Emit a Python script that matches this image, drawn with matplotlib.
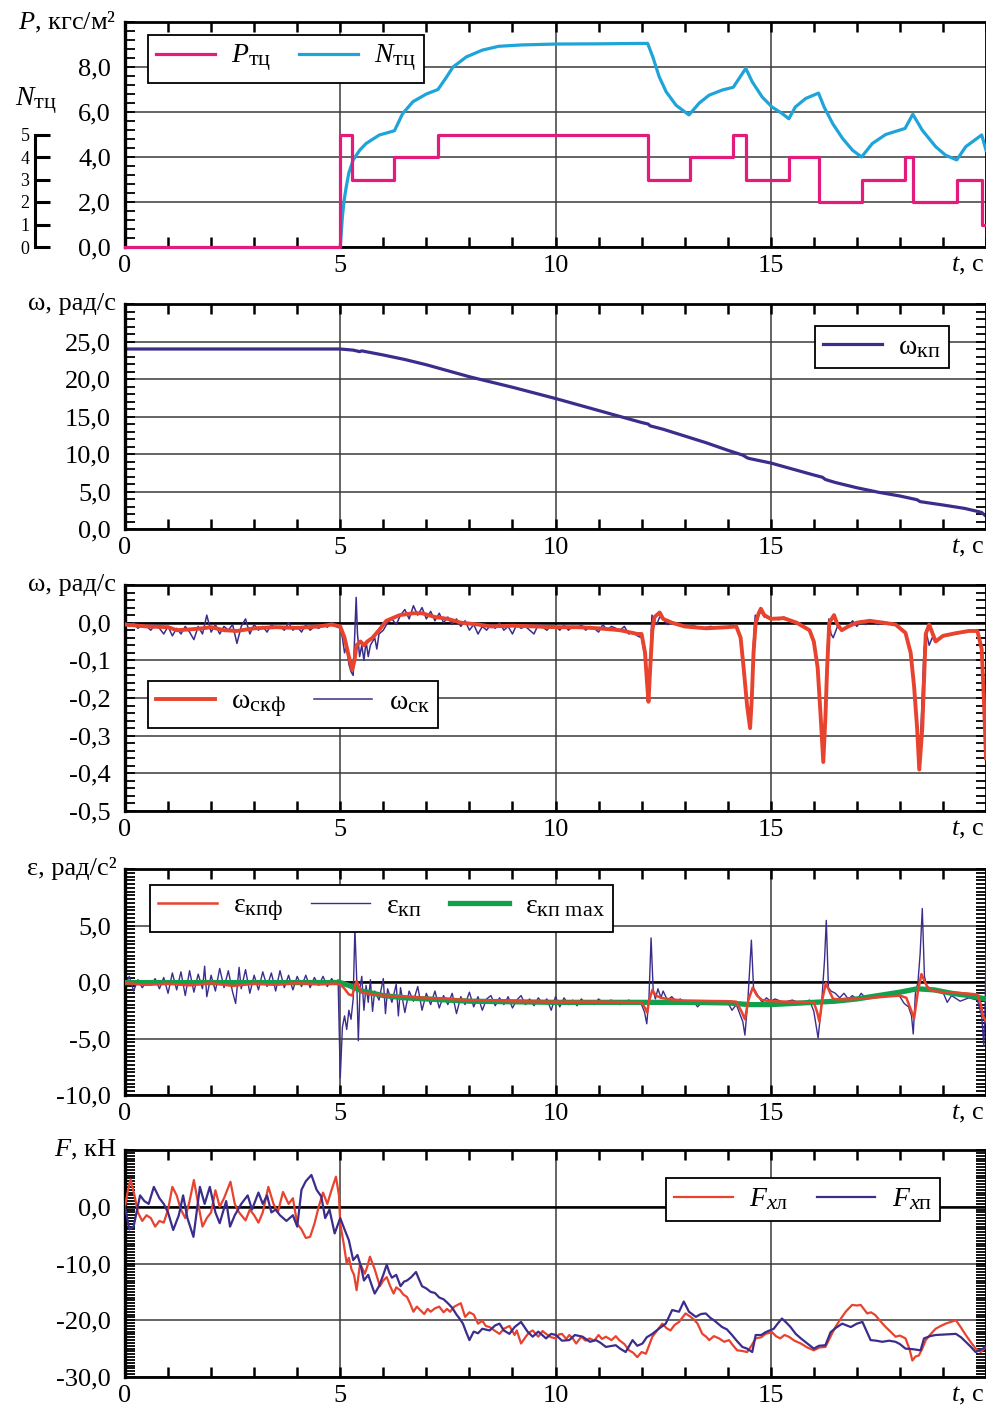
import matplotlib.pyplot as plt
import matplotlib._mathtext as mathtext_mod
from matplotlib.ticker import MultipleLocator, FixedLocator, FuncFormatter

plt.rcParams['font.family'] = ['Liberation Serif', 'DejaVu Serif']
plt.rcParams['mathtext.fontset'] = 'custom'
plt.rcParams['mathtext.rm'] = 'Liberation Serif'
plt.rcParams['mathtext.it'] = 'Liberation Serif:italic'
plt.rcParams['mathtext.bf'] = 'Liberation Serif:bold'
# индексы в оригинале крупнее, чем по умолчанию в mathtext
if hasattr(mathtext_mod, 'SHRINK_FACTOR'):
    mathtext_mod.SHRINK_FACTOR = 0.8

# ---- панель 1: давление в тормозном цилиндре и число ступеней ----
p_t = [0, 5.0, 5.27, 6.26, 7.27, 12.14, 13.13, 14.13, 14.42, 15.43, 16.13, 17.11, 18.12, 18.3, 19.32, 19.9, 20.0]
p_v = [0, 5, 3, 4, 5, 3, 4, 5, 3, 4, 2, 3, 4, 2, 3, 1, 1]

n_pts = [(5.0, 0.0), (5.03, 0.8), (5.05, 1.35), (5.09, 2.08), (5.14, 2.68), (5.2, 3.3), (5.3, 3.87),
         (5.45, 4.3), (5.6, 4.6), (5.91, 4.98), (6.1, 5.08), (6.26, 5.17), (6.45, 5.93), (6.69, 6.46),
         (7.0, 6.8), (7.27, 7.0), (7.45, 7.5), (7.62, 8.0), (7.93, 8.45), (8.3, 8.75), (8.68, 8.92),
         (9.2, 8.98), (10.0, 9.02), (11.0, 9.03), (12.14, 9.05), (12.26, 8.45), (12.41, 7.56),
         (12.57, 6.9), (12.8, 6.3), (13.1, 5.87), (13.34, 6.4), (13.57, 6.75), (13.88, 6.98),
         (14.13, 7.1), (14.42, 7.94), (14.57, 7.34), (14.8, 6.67), (15.03, 6.22), (15.26, 5.94),
         (15.42, 5.7), (15.57, 6.22), (15.81, 6.6), (16.11, 6.84), (16.24, 6.22), (16.44, 5.48),
         (16.67, 4.82), (16.9, 4.3), (17.11, 4.0), (17.36, 4.6), (17.67, 5.0), (18.12, 5.27),
         (18.3, 5.9), (18.52, 5.19), (18.83, 4.46), (19.06, 4.08), (19.32, 3.87), (19.53, 4.46),
         (19.9, 4.98), (20.0, 4.3)]

# ---- панель 2: угловая скорость колёсной пары ----
w_kp = [(0, 24.0), (1, 24.0), (2, 24.0), (3, 24.0), (4, 24.0), (5.0, 24.0), (5.3, 23.85), (5.45, 23.65),
        (5.5, 23.75), (6.0, 23.2), (6.5, 22.6), (7.0, 21.9), (7.5, 21.1), (8.0, 20.3), (8.5, 19.6),
        (9.0, 18.9), (9.5, 18.15), (10.0, 17.4), (10.5, 16.6), (11.0, 15.8), (11.5, 15.0), (12.0, 14.2),
        (12.15, 14.0), (12.2, 13.75), (12.5, 13.3), (13.0, 12.4), (13.5, 11.5), (14.0, 10.5),
        (14.35, 9.85), (14.45, 9.5), (14.5, 9.4), (15.0, 8.8), (15.5, 8.0), (16.0, 7.2), (16.2, 6.9),
        (16.27, 6.6), (16.5, 6.2), (17.0, 5.5), (17.5, 4.9), (18.0, 4.4), (18.4, 3.9), (18.47, 3.65),
        (19.0, 3.2), (19.5, 2.75), (19.8, 2.35), (19.9, 2.2), (20.0, 1.7)]

# ---- панель 3: угловая скорость скольжения ----
w_skf = [(0.0, -0.005), (0.5, -0.01), (1.0, -0.012), (1.2, -0.02), (1.5, -0.018), (1.8, -0.015),
         (2.0, -0.012), (2.3, -0.02), (2.6, -0.022), (3.0, -0.015), (3.5, -0.012), (4.0, -0.014),
         (4.5, -0.01), (4.8, -0.005), (5.0, -0.01), (5.1, -0.04), (5.2, -0.09), (5.28, -0.125),
         (5.33, -0.1), (5.38, -0.06), (5.47, -0.05), (5.55, -0.06), (5.63, -0.05), (5.75, -0.04),
         (5.9, -0.02), (6.07, 0.005), (6.38, 0.02), (6.7, 0.025), (6.9, 0.025), (7.2, 0.015),
         (7.5, 0.01), (7.8, 0.0), (8.2, -0.005), (8.5, -0.01), (9.0, -0.008), (9.5, -0.01),
         (10.0, -0.012), (10.5, -0.012), (11.0, -0.015), (11.5, -0.02), (11.9, -0.03), (12.0, -0.03),
         (12.08, -0.08), (12.12, -0.15), (12.16, -0.21), (12.2, -0.12), (12.25, -0.02), (12.3, 0.015),
         (12.42, 0.027), (12.5, 0.01), (12.7, 0.0), (13.0, -0.01), (13.5, -0.015), (14.0, -0.012),
         (14.2, -0.01), (14.3, -0.04), (14.37, -0.12), (14.45, -0.22), (14.52, -0.28), (14.56, -0.2),
         (14.6, -0.08), (14.65, 0.0), (14.72, 0.025), (14.77, 0.037), (14.85, 0.02), (15.0, 0.01),
         (15.3, 0.012), (15.6, 0.0), (15.9, -0.02), (16.0, -0.05), (16.09, -0.12), (16.16, -0.25),
         (16.22, -0.37), (16.27, -0.25), (16.31, -0.12), (16.36, 0.0), (16.47, 0.02), (16.55, -0.005),
         (16.65, -0.02), (16.8, -0.01), (17.0, 0.0), (17.3, 0.005), (17.6, 0.0), (17.9, -0.005),
         (18.13, -0.027), (18.25, -0.08), (18.33, -0.17), (18.4, -0.28), (18.45, -0.39), (18.52, -0.28),
         (18.6, -0.03), (18.68, -0.005), (18.83, -0.05), (19.0, -0.035), (19.3, -0.028), (19.6, -0.022),
         (19.8, -0.022), (19.9, -0.07), (19.95, -0.2), (20.0, -0.36)]

w_sk = [(0.0, 0.0), (0.1, -0.01), (0.2, 0.0), (0.3, -0.015), (0.4, -0.005), (0.5, -0.01), (0.6, -0.02),
        (0.7, -0.005), (0.8, -0.015), (0.9, -0.03), (1.0, -0.01), (1.1, -0.035), (1.2, -0.015),
        (1.3, -0.03), (1.4, -0.01), (1.5, -0.025), (1.6, -0.045), (1.7, -0.01), (1.8, -0.03),
        (1.9, 0.02), (2.0, -0.025), (2.1, -0.005), (2.2, -0.03), (2.3, -0.01), (2.4, -0.02),
        (2.5, -0.005), (2.6, -0.055), (2.7, -0.01), (2.8, 0.01), (2.9, -0.03), (3.0, -0.005),
        (3.1, -0.02), (3.2, -0.01), (3.3, -0.025), (3.4, -0.005), (3.5, -0.015), (3.6, -0.01),
        (3.7, -0.02), (3.8, 0.0), (3.9, -0.02), (4.0, -0.01), (4.1, -0.025), (4.2, -0.005),
        (4.3, -0.02), (4.4, -0.01), (4.5, -0.015), (4.6, -0.005), (4.7, -0.012), (4.8, 0.0),
        (4.9, -0.01), (5.0, -0.015), (5.05, -0.04), (5.1, -0.08), (5.15, -0.06), (5.2, -0.11),
        (5.25, -0.13), (5.3, -0.14), (5.33, -0.05), (5.37, 0.067), (5.4, -0.03), (5.45, -0.09),
        (5.5, -0.06), (5.55, -0.1), (5.6, -0.05), (5.65, -0.09), (5.7, -0.06), (5.8, -0.04),
        (5.85, -0.07), (5.9, -0.03), (6.0, -0.02), (6.1, 0.0), (6.2, 0.01), (6.3, -0.005), (6.4, 0.02),
        (6.5, 0.035), (6.6, 0.01), (6.7, 0.045), (6.8, 0.02), (6.9, 0.04), (7.0, 0.01), (7.1, 0.03),
        (7.2, 0.005), (7.3, 0.025), (7.4, 0.0), (7.5, 0.015), (7.6, -0.005), (7.7, 0.01), (7.8, -0.01),
        (7.9, 0.005), (8.0, -0.02), (8.1, -0.005), (8.2, -0.03), (8.3, -0.01), (8.4, -0.02),
        (8.5, -0.005), (8.6, -0.015), (8.7, 0.0), (8.8, -0.02), (8.9, -0.01), (9.0, -0.03),
        (9.1, -0.005), (9.2, -0.015), (9.3, -0.01), (9.5, -0.03), (9.6, -0.005), (9.7, -0.012),
        (9.8, -0.02), (9.9, -0.008), (10.0, -0.01), (10.1, -0.02), (10.2, -0.005), (10.3, -0.02),
        (10.4, -0.01), (10.5, -0.015), (10.6, -0.005), (10.7, -0.02), (10.8, -0.01), (10.9, -0.015),
        (11.0, -0.025), (11.1, -0.005), (11.2, -0.02), (11.3, -0.01), (11.4, -0.015), (11.5, -0.02),
        (11.6, -0.01), (11.7, -0.03), (11.8, -0.025), (11.9, -0.035), (12.0, -0.04), (12.08, -0.09),
        (12.12, -0.16), (12.16, -0.21), (12.2, -0.1), (12.24, 0.02), (12.3, 0.0), (12.35, -0.005),
        (12.42, 0.015), (12.5, 0.01), (12.6, -0.005), (12.8, 0.0), (13.0, -0.012), (13.2, -0.008),
        (13.4, -0.015), (13.6, -0.01), (13.8, -0.013), (14.0, -0.012), (14.2, -0.01), (14.3, -0.04),
        (14.37, -0.12), (14.45, -0.22), (14.52, -0.27), (14.56, -0.18), (14.6, -0.05), (14.64, 0.02),
        (14.68, 0.0), (14.72, 0.02), (14.77, 0.03), (14.85, 0.015), (15.0, 0.012), (15.2, 0.008),
        (15.3, 0.015), (15.6, 0.0), (15.9, -0.02), (16.0, -0.05), (16.09, -0.12), (16.16, -0.25),
        (16.22, -0.36), (16.27, -0.22), (16.31, -0.08), (16.35, 0.01), (16.4, -0.03), (16.45, -0.04),
        (16.55, -0.01), (16.65, -0.02), (16.8, -0.01), (16.9, 0.005), (17.0, -0.01), (17.1, 0.005),
        (17.2, -0.005), (17.3, 0.008), (17.5, -0.005), (17.6, 0.003), (17.9, -0.005), (18.13, -0.027),
        (18.25, -0.08), (18.33, -0.17), (18.4, -0.28), (18.45, -0.38), (18.5, -0.25), (18.56, -0.07),
        (18.62, -0.03), (18.68, -0.06), (18.75, -0.04), (18.83, -0.05), (19.0, -0.035), (19.3, -0.028),
        (19.6, -0.022), (19.8, -0.022), (19.9, -0.07), (19.95, -0.2), (20.0, -0.36)]

# ---- панель 4: угловое ускорение ----
e_kp = [(0.0, -0.3), (0.1, 0.5), (0.2, -0.8), (0.3, 0.2), (0.4, -0.5), (0.5, 0.0), (0.6, -0.3), (0.7, 0.3),
        (0.8, -0.6), (0.9, 0.4), (1.0, -1.0), (1.1, 0.8), (1.2, -0.7), (1.3, 0.9), (1.4, -1.2), (1.5, 1.0),
        (1.6, -0.9), (1.7, 0.7), (1.8, -0.6), (1.85, 1.4), (1.9, -1.3), (2.0, 0.6), (2.1, -0.8), (2.2, 1.2),
        (2.3, -0.5), (2.4, 1.0), (2.5, -0.9), (2.57, -1.9), (2.65, 1.3), (2.7, -0.6), (2.8, 1.1),
        (2.9, -1.0), (3.0, 0.6), (3.1, -0.7), (3.2, 0.9), (3.3, -0.4), (3.4, 0.8), (3.5, -0.8), (3.6, 1.0),
        (3.7, -0.5), (3.8, 0.6), (3.9, -0.7), (4.0, 0.5), (4.1, -0.4), (4.2, 0.6), (4.3, -0.5), (4.4, 0.4),
        (4.5, -0.3), (4.6, 0.5), (4.7, -0.4), (4.8, 0.3), (4.9, -0.2), (4.95, 0.2), (5.0, -8.5),
        (5.05, -4.0), (5.1, -3.0), (5.15, -4.2), (5.2, -2.5), (5.25, -3.3), (5.3, -1.5), (5.34, 4.75),
        (5.38, 0.5), (5.42, -5.2), (5.46, -0.5), (5.5, 0.5), (5.55, -2.5), (5.6, -0.3), (5.65, -1.8),
        (5.7, 0.2), (5.75, -2.6), (5.8, -0.8), (5.9, -1.6), (6.0, 0.3), (6.05, -2.8), (6.1, -0.6),
        (6.2, -1.8), (6.3, -0.2), (6.35, -3.0), (6.4, -0.5), (6.5, -2.7), (6.6, -0.8), (6.7, -1.7),
        (6.8, -0.4), (6.9, -2.5), (7.0, -1.0), (7.1, -2.0), (7.2, -0.8), (7.3, -2.3), (7.4, -1.2),
        (7.5, -2.0), (7.6, -1.0), (7.7, -2.8), (7.8, -1.3), (7.9, -2.0), (8.0, -0.9), (8.1, -2.2),
        (8.2, -1.3), (8.3, -2.5), (8.4, -1.5), (8.5, -1.2), (8.6, -2.1), (8.7, -1.4), (8.8, -2.0),
        (8.9, -1.3), (9.0, -2.3), (9.1, -1.6), (9.2, -1.2), (9.3, -2.0), (9.4, -1.5), (9.5, -2.1),
        (9.6, -1.4), (9.7, -1.9), (9.8, -1.5), (9.9, -2.5), (10.0, -1.3), (10.1, -2.2), (10.2, -1.4),
        (10.3, -2.0), (10.4, -1.6), (10.5, -2.1), (10.6, -1.5), (10.7, -1.9), (10.8, -1.7), (10.9, -2.0),
        (11.0, -1.5), (11.1, -1.8), (11.3, -1.6), (11.5, -2.0), (11.7, -1.6), (11.9, -1.9), (12.0, -2.0),
        (12.07, -2.7), (12.12, -3.7), (12.17, -1.5), (12.22, 3.9), (12.27, -0.8), (12.32, -1.5),
        (12.38, -0.6), (12.45, -1.4), (12.5, -0.8), (12.6, -1.6), (12.7, -1.3), (12.8, -1.7),
        (12.9, -1.5), (13.0, -1.9), (13.2, -1.7), (13.3, -2.2), (13.4, -1.8), (13.6, -1.7), (13.8, -1.9),
        (14.0, -1.8), (14.1, -2.5), (14.2, -2.0), (14.35, -3.5), (14.4, -4.7), (14.47, -1.5),
        (14.55, 3.7), (14.6, -0.5), (14.7, -1.2), (14.8, -1.8), (14.9, -1.4), (15.0, -1.7), (15.1, -1.5),
        (15.3, -1.8), (15.5, -1.6), (15.7, -1.9), (15.9, -1.6), (16.0, -2.6), (16.1, -4.95),
        (16.18, -2.0), (16.25, 2.0), (16.29, 5.45), (16.34, -0.5), (16.4, -0.8), (16.5, -1.0),
        (16.6, -1.4), (16.7, -1.0), (16.8, -1.5), (16.9, -1.2), (17.0, -1.6), (17.1, -1.0), (17.2, -1.4),
        (17.3, -1.3), (17.5, -1.2), (17.7, -1.0), (17.9, -1.1), (18.0, -1.3), (18.1, -1.9), (18.2, -2.2),
        (18.27, -3.0), (18.31, -4.6), (18.36, -1.0), (18.42, 0.0), (18.47, 2.5), (18.52, 6.5),
        (18.57, 0.5), (18.62, -0.3), (18.7, -0.6), (18.8, -0.8), (18.9, -0.7), (19.0, -0.9), (19.1, -1.8),
        (19.2, -1.2), (19.4, -1.7), (19.6, -1.4), (19.8, -1.6), (19.9, -3.0), (19.95, -5.7),
        (19.98, -2.0), (20.0, 2.7)]

e_kpf = [(0.0, -0.1), (0.5, -0.25), (1.0, -0.15), (1.5, -0.3), (2.0, -0.1), (2.5, -0.35), (3.0, -0.15),
         (3.5, -0.25), (4.0, -0.1), (4.5, -0.2), (4.9, -0.15), (5.0, -0.2), (5.1, -0.6), (5.2, -1.1),
         (5.28, -1.2), (5.33, -0.5), (5.38, 0.1), (5.43, -0.4), (5.5, -0.9), (5.6, -1.0), (5.8, -1.1),
         (6.0, -1.2), (6.5, -1.3), (7.0, -1.4), (7.5, -1.5), (8.0, -1.6), (8.5, -1.65), (9.0, -1.7),
         (10.0, -1.75), (11.0, -1.75), (12.0, -1.8), (12.08, -2.3), (12.13, -2.7), (12.18, -1.6),
         (12.25, -0.7), (12.33, -1.2), (12.45, -1.4), (12.6, -1.5), (13.0, -1.65), (14.0, -1.7),
         (14.2, -1.75), (14.32, -2.6), (14.4, -3.3), (14.48, -1.6), (14.58, -0.5), (14.68, -1.2),
         (14.8, -1.6), (15.0, -1.7), (16.0, -1.8), (16.08, -2.7), (16.13, -3.5), (16.2, -1.5),
         (16.28, -0.1), (16.36, -0.8), (16.45, -1.5), (16.7, -1.55), (17.0, -1.5), (17.5, -1.35),
         (18.0, -1.2), (18.15, -1.4), (18.25, -2.4), (18.33, -3.2), (18.42, -0.8), (18.5, 0.7),
         (18.58, 0.0), (18.66, -0.6), (18.8, -0.8), (19.0, -0.9), (19.5, -1.0), (19.8, -1.1),
         (19.88, -2.0), (19.93, -3.0), (20.0, -3.5)]

e_max = [(0.0, -0.05), (5.0, -0.05), (5.2, -0.3), (5.5, -0.8), (6.0, -1.2), (6.5, -1.4), (7.0, -1.5),
         (8.0, -1.7), (9.0, -1.75), (10.0, -1.8), (12.0, -1.8), (13.0, -1.8), (14.0, -1.85), (14.5, -2.0),
         (15.0, -2.0), (15.5, -1.9), (16.0, -1.8), (16.5, -1.7), (17.0, -1.5), (17.5, -1.2), (18.0, -0.9),
         (18.4, -0.6), (18.8, -0.7), (19.2, -1.0), (19.6, -1.2), (20.0, -1.5)]

# ---- панель 5: продольные силы ----
f_xl = [(0.0, 0.0), (0.07, 3.0), (0.13, 4.8), (0.22, 2.0), (0.3, -1.0), (0.4, -2.5), (0.5, -1.5),
        (0.6, -2.0), (0.7, -3.5), (0.8, -2.5), (0.9, -2.8), (1.0, -0.5), (1.1, 3.5), (1.2, 2.0),
        (1.3, -0.5), (1.4, -2.0), (1.5, 1.0), (1.6, 4.7), (1.7, 0.5), (1.8, -3.5), (1.9, -2.0),
        (2.0, -1.0), (2.1, 2.9), (2.2, 0.0), (2.3, 1.5), (2.45, 4.4), (2.55, 0.5), (2.65, -1.0),
        (2.8, -2.4), (2.9, -0.5), (3.0, -1.5), (3.1, -2.8), (3.2, -1.0), (3.33, 3.5), (3.45, 0.5),
        (3.55, -1.0), (3.67, 2.6), (3.8, 0.5), (3.9, 1.5), (4.0, -3.0), (4.1, -4.0), (4.2, -5.5),
        (4.3, -5.3), (4.4, -3.0), (4.5, 0.0), (4.6, 2.5), (4.7, 0.5), (4.8, 3.0), (4.9, 5.3), (4.97, 2.0),
        (5.0, -3.0), (5.08, -6.5), (5.15, -10.0), (5.2, -9.0), (5.26, -11.0), (5.32, -12.0),
        (5.38, -14.7), (5.46, -10.0), (5.52, -11.0), (5.57, -11.8), (5.63, -10.5), (5.69, -8.8),
        (5.75, -10.0), (5.8, -11.0), (5.86, -12.5), (5.92, -14.0), (6.0, -13.0), (6.08, -12.4),
        (6.16, -14.0), (6.24, -15.3), (6.3, -14.2), (6.39, -14.7), (6.47, -15.5), (6.55, -15.9),
        (6.62, -17.0), (6.7, -18.5), (6.78, -17.6), (6.86, -18.2), (6.95, -18.9), (7.03, -18.0),
        (7.1, -18.5), (7.2, -17.9), (7.3, -17.6), (7.4, -18.6), (7.48, -18.0), (7.55, -18.5),
        (7.65, -17.6), (7.8, -17.0), (7.9, -19.4), (8.0, -18.6), (8.1, -19.0), (8.2, -20.6),
        (8.3, -20.1), (8.38, -21.0), (8.47, -21.2), (8.58, -21.8), (8.7, -22.4), (8.8, -21.5),
        (8.93, -21.0), (9.05, -22.6), (9.1, -21.8), (9.2, -24.1), (9.3, -23.0), (9.38, -22.2),
        (9.47, -21.8), (9.6, -22.9), (9.7, -21.9), (9.78, -22.4), (9.9, -23.0), (10.01, -23.2),
        (10.08, -22.5), (10.15, -22.4), (10.25, -23.3), (10.32, -22.6), (10.4, -23.2), (10.48, -24.1),
        (10.6, -22.9), (10.7, -23.6), (10.79, -23.2), (10.9, -23.6), (11.0, -22.6), (11.08, -23.3),
        (11.17, -22.9), (11.3, -23.5), (11.4, -22.8), (11.48, -23.5), (11.6, -24.2), (11.71, -25.3),
        (11.8, -25.7), (11.9, -26.5), (12.0, -25.6), (12.1, -25.9), (12.18, -24.3), (12.25, -22.9),
        (12.35, -21.9), (12.48, -20.6), (12.58, -21.4), (12.67, -21.8), (12.77, -20.8), (12.87, -20.3),
        (13.02, -18.8), (13.14, -19.4), (13.22, -19.9), (13.3, -20.6), (13.41, -22.4), (13.5, -22.9),
        (13.57, -23.5), (13.68, -22.8), (13.8, -23.2), (13.92, -23.8), (14.03, -23.5), (14.12, -24.4),
        (14.22, -25.3), (14.33, -25.4), (14.45, -25.6), (14.55, -24.5), (14.65, -23.2), (14.78, -23.0),
        (14.88, -22.4), (15.03, -22.1), (15.12, -22.8), (15.22, -23.2), (15.32, -22.6), (15.42, -22.9),
        (15.55, -23.6), (15.7, -24.1), (15.85, -24.8), (16.0, -25.3), (16.13, -24.8), (16.27, -24.7),
        (16.38, -23.0), (16.5, -21.2), (16.62, -19.8), (16.74, -18.5), (16.89, -17.3), (17.0, -17.4),
        (17.09, -17.3), (17.24, -18.8), (17.33, -18.6), (17.43, -19.1), (17.55, -20.2), (17.67, -21.2),
        (17.78, -22.0), (17.9, -22.9), (18.0, -22.7), (18.13, -23.2), (18.22, -25.0), (18.29, -27.1),
        (18.36, -26.4), (18.44, -26.2), (18.52, -25.0), (18.6, -23.5), (18.72, -22.4), (18.83, -21.5),
        (18.95, -21.0), (19.06, -20.6), (19.18, -20.3), (19.3, -20.0), (19.42, -21.3), (19.53, -22.6),
        (19.65, -23.9), (19.76, -25.0), (19.88, -25.6), (20.0, -24.7)]

f_xp = [(0.0, 0.0), (0.1, -4.0), (0.2, -3.5), (0.35, 2.0), (0.45, 1.0), (0.55, 0.5), (0.67, 3.5),
        (0.8, 1.5), (0.9, 0.5), (1.0, -1.0), (1.12, -4.1), (1.25, -1.5), (1.35, 2.0), (1.45, -2.0),
        (1.59, -5.3), (1.74, 3.5), (1.85, 0.5), (1.97, 3.5), (2.1, -1.0), (2.2, -2.9), (2.35, 1.0),
        (2.44, -3.5), (2.55, -1.5), (2.7, 0.5), (2.85, 2.0), (2.95, -0.5), (3.1, 2.5), (3.2, 0.5),
        (3.3, 2.0), (3.4, -1.0), (3.5, -0.5), (3.6, -1.5), (3.75, -2.5), (3.9, -1.5), (4.0, -3.5),
        (4.1, 3.0), (4.2, 4.5), (4.33, 5.6), (4.45, 3.0), (4.56, 1.8), (4.65, -2.0), (4.75, -0.5),
        (4.87, -4.7), (5.0, -2.0), (5.1, -4.0), (5.2, -5.9), (5.3, -9.4), (5.4, -8.5), (5.48, -10.5),
        (5.55, -13.0), (5.65, -12.0), (5.72, -13.6), (5.8, -15.3), (5.9, -14.0), (6.0, -12.0),
        (6.08, -10.2), (6.14, -11.6), (6.2, -12.5), (6.3, -12.0), (6.4, -14.0), (6.48, -13.2),
        (6.55, -13.0), (6.65, -12.4), (6.76, -11.5), (6.83, -12.8), (6.9, -14.0), (7.0, -14.4),
        (7.1, -15.0), (7.2, -15.2), (7.3, -16.0), (7.4, -16.3), (7.5, -17.0), (7.6, -17.8),
        (7.7, -19.0), (7.78, -19.8), (7.85, -20.6), (7.92, -22.0), (8.0, -23.5), (8.1, -22.0),
        (8.2, -22.3), (8.3, -21.5), (8.47, -21.8), (8.6, -20.9), (8.7, -20.6), (8.8, -21.8),
        (8.93, -22.4), (9.05, -21.2), (9.2, -20.3), (9.35, -22.0), (9.47, -22.9), (9.6, -22.0),
        (9.78, -23.2), (9.9, -22.4), (10.01, -22.6), (10.15, -23.6), (10.32, -23.5), (10.45, -22.6),
        (10.63, -22.9), (10.8, -23.8), (10.94, -23.5), (11.05, -24.0), (11.17, -24.7), (11.4, -24.4),
        (11.5, -25.0), (11.63, -25.6), (11.79, -23.5), (11.9, -24.5), (12.02, -24.1), (12.12, -23.0),
        (12.25, -22.4), (12.4, -21.5), (12.56, -20.6), (12.71, -18.2), (12.87, -18.5), (12.98, -16.7),
        (13.1, -18.5), (13.26, -19.4), (13.38, -18.9), (13.49, -18.8), (13.6, -19.6), (13.68, -20.0),
        (13.87, -21.2), (13.98, -21.6), (14.1, -22.6), (14.22, -23.7), (14.34, -24.7), (14.45, -25.0),
        (14.57, -25.6), (14.65, -22.6), (14.78, -22.6), (14.88, -22.1), (15.07, -21.5), (15.16, -20.6),
        (15.26, -19.7), (15.36, -20.4), (15.46, -21.2), (15.58, -22.4), (15.7, -23.2), (15.85, -24.1),
        (16.0, -25.0), (16.12, -24.5), (16.27, -24.4), (16.39, -22.1), (16.52, -21.3), (16.66, -20.6),
        (16.76, -20.9), (16.86, -21.2), (17.0, -20.6), (17.13, -20.3), (17.22, -21.8), (17.32, -23.5),
        (17.45, -23.6), (17.59, -23.8), (17.75, -23.6), (17.9, -23.8), (18.0, -24.2), (18.13, -25.0),
        (18.3, -25.1), (18.48, -25.3), (18.56, -23.2), (18.7, -22.8), (18.83, -22.6), (19.05, -22.5),
        (19.3, -22.4), (19.42, -23.0), (19.53, -23.8), (19.65, -24.7), (19.76, -25.6), (19.88, -25.2),
        (20.0, -24.7)]

MAGENTA = '#e31b7b'
CYAN = '#1ea4d8'
INDIGO = '#3b2d8c'
RED = '#e8432e'
GREEN = '#12a04c'

W, H = 987, 1412
fig = plt.figure(figsize=(W / 100, H / 100), dpi=100)
FS = 19
LFS = 20


def xy(pts):
    return [p[0] for p in pts], [p[1] for p in pts]


def panel(top, bot, ylim, labeled, minor, ylabel):
    ax = fig.add_axes([125 / W, 1 - bot / H, 861 / W, (bot - top) / H])
    ax.set_xlim(0, 20)
    ax.set_ylim(*ylim)
    ax.xaxis.set_major_locator(FixedLocator([0, 5, 10, 15]))
    ax.xaxis.set_minor_locator(MultipleLocator(1))
    ax.yaxis.set_major_locator(FixedLocator(labeled))
    ax.yaxis.set_minor_locator(MultipleLocator(minor))
    ax.yaxis.set_major_formatter(FuncFormatter(lambda v, p: f'{v:.1f}'.replace('.', ',')))
    ax.xaxis.set_major_formatter(FuncFormatter(lambda v, p: f'{v:.0f}'))
    ax.tick_params(axis='both', which='both', direction='in', top=True, right=True,
                   labelsize=FS, color='black')
    ax.tick_params(axis='x', which='both', length=7, width=1.8, pad=6)
    ax.tick_params(axis='y', which='both', length=7, width=1.3, pad=10)
    ax.grid(True, which='major', color='#3a3a3a', lw=1.1)
    for s in ax.spines.values():
        s.set_linewidth(2.0)
    ax.spines['left'].set_linewidth(2.4)
    ax.annotate('$t$, с', xy=(1, 0), xycoords='axes fraction', xytext=(-1, -6),
                textcoords='offset points', ha='right', va='top', fontsize=FS)
    ax.text(-0.010, 1.0, ylabel, transform=ax.transAxes, ha='right', va='center', fontsize=FS)
    return ax


def box_legend(ax, x_px, y_px, ncol, handles=None):
    kw = dict(loc='upper left', bbox_to_anchor=(x_px / W, 1 - y_px / H),
              bbox_transform=fig.transFigure, ncol=ncol, frameon=True, fancybox=False,
              framealpha=1, edgecolor='black', fontsize=LFS, handlelength=2.1,
              handletextpad=0.6, columnspacing=1.0, borderpad=0.3, borderaxespad=0)
    if handles is not None:
        kw['handles'] = handles
    leg = ax.legend(**kw)
    leg.get_frame().set_linewidth(1.3)
    return leg


# панель 1
ax1 = panel(22, 247, (0, 10), [0, 2, 4, 6, 8], 0.4, '$P$, кгс/м²')
ax1.plot(p_t, p_v, drawstyle='steps-post', color=MAGENTA, lw=2.3, label=r'$P_\mathrm{тц}$',
         clip_on=False, zorder=4)
nt, nv = xy(n_pts)
ax1.plot(nt, nv, color=CYAN, lw=2.3, label=r'$N_\mathrm{тц}$', zorder=3)
box_legend(ax1, 148, 35, 2)

axn = ax1.twinx()
axn.set_ylim(0, 10)
for s in ['top', 'bottom', 'right']:
    axn.spines[s].set_visible(False)
axn.spines['left'].set_visible(True)
axn.spines['left'].set_position(('axes', -0.1045))
axn.spines['left'].set_bounds(0, 5)
axn.spines['left'].set_linewidth(2.2)
axn.yaxis.set_ticks_position('left')
axn.set_yticks([0, 1, 2, 3, 4, 5])
axn.tick_params(axis='y', direction='in', length=11, width=2.2, labelsize=13, pad=4)
ax1.text(-0.103, 0.645, r'$N_\mathrm{тц}$', transform=ax1.transAxes, ha='center', va='center',
         fontsize=LFS)

# панель 2
ax2 = panel(304, 529, (0, 30), [0, 5, 10, 15, 20, 25], 1, 'ω, рад/с')
t, v = xy(w_kp)
ax2.plot(t, v, color=INDIGO, lw=2.3, label=r'ω$_\mathrm{кп}$')
box_legend(ax2, 815, 326, 1)

# панель 3
ax3 = panel(585, 811, (-0.5, 0.1), [-0.5, -0.4, -0.3, -0.2, -0.1, 0.0], 0.02, 'ω, рад/с')
ax3.axhline(0, color='black', lw=1.8, zorder=1.6)
t, v = xy(w_sk)
l_sk, = ax3.plot(t, v, color=INDIGO, lw=1.1, label=r'ω$_\mathrm{ск}$', zorder=3)
t, v = xy(w_skf)
l_skf, = ax3.plot(t, v, color=RED, lw=2.8, label=r'ω$_\mathrm{скф}$', zorder=4)
box_legend(ax3, 148, 681, 2, handles=[l_skf, l_sk])

# панель 4
ax4 = panel(869, 1095, (-10, 10), [-10, -5, 0, 5], 1 / 3, 'ε, рад/с²')
ax4.axhline(0, color='black', lw=1.8, zorder=1.6)
t, v = xy(e_kp)
l_kp, = ax4.plot(t, v, color=INDIGO, lw=1.0, label=r'ε$_\mathrm{кп}$', zorder=3)
t, v = xy(e_max)
l_max, = ax4.plot(t, v, color=GREEN, lw=3.8, label=r'ε$_\mathrm{кп\ max}$', zorder=3.5)
t, v = xy(e_kpf)
l_kpf, = ax4.plot(t, v, color=RED, lw=1.8, label=r'ε$_\mathrm{кпф}$', zorder=4)
box_legend(ax4, 150, 885, 3, handles=[l_kpf, l_kp, l_max])

# панель 5
ax5 = panel(1150, 1377, (-30, 10), [-30, -20, -10, 0], 0.5, '$F$, кН')
ax5.axhline(0, color='black', lw=1.8, zorder=1.6)
t, v = xy(f_xl)
ax5.plot(t, v, color=RED, lw=1.6, label=r'$F_{x\mathrm{л}}$', zorder=3)
t, v = xy(f_xp)
ax5.plot(t, v, color=INDIGO, lw=1.6, label=r'$F_{x\mathrm{п}}$', zorder=3.5)
box_legend(ax5, 666, 1178, 2)

fig.savefig('out.png', dpi=100)
